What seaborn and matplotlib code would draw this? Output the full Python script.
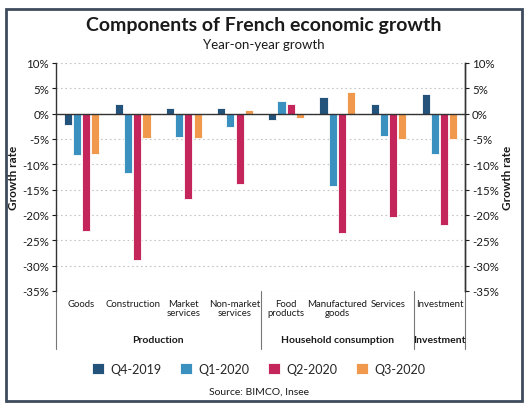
import pandas as pd
import matplotlib.pyplot as plt
import seaborn as sns
from matplotlib.patches import Rectangle
from matplotlib.ticker import FuncFormatter

# Data (growth rate, %)
categories = ["Goods", "Construction", "Market\nservices", "Non-market\nservices",
              "Food\nproducts", "Manufactured\ngoods", "Services", "Investment"]
quarters = ["Q4-2019", "Q1-2020", "Q2-2020", "Q3-2020"]
q4_2019 = [-2.3, 1.8, 1.1, 1.2, -1.2, 3.3, 1.9, 3.9]
q1_2020 = [-8.1, -11.7, -4.7, -2.7, 2.5, -14.2, -4.5, -7.9]
q2_2020 = [-23.1, -28.8, -16.9, -13.8, 1.8, -23.6, -20.5, -22.0]
q3_2020 = [-7.9, -4.8, -4.9, 0.7, -0.9, 4.2, -5.1, -5.1]
groups = ["Production", "Household consumption", "Investment"]
group_spans = [(0, 3), (4, 6), (7, 7)]
colors = ["#23537a", "#3a91c0", "#c4255b", "#f0984b"]

rows = []
for q, vals in zip(quarters, [q4_2019, q1_2020, q2_2020, q3_2020]):
    for c, v in zip(categories, vals):
        rows.append({"Category": c, "Quarter": q, "Growth": v})
df = pd.DataFrame(rows)

sns.set_style("white")
plt.rcParams["font.family"] = ["Lato", "DejaVu Sans"]
text_col = "#1a1a1a"

fig = plt.figure(figsize=(5.28, 4.10), dpi=100)
ax = fig.add_axes([0.106, 0.288, 0.775, 0.556])

sns.barplot(data=df, x="Category", y="Growth", hue="Quarter", order=categories,
            hue_order=quarters, palette=colors, saturation=1, width=0.72, gap=0.12,
            edgecolor="white", linewidth=0.6, ax=ax)

ax.set_ylim(-35, 10)
ax.set_xlim(-0.5, len(categories) - 0.5)
yticks = list(range(-35, 11, 5))
ax.set_yticks(yticks)
pct = FuncFormatter(lambda v, p: f"{int(v)}%")
ax.yaxis.set_major_formatter(pct)
for t in yticks:
    ax.axhline(t, color="#c4c4c4", lw=0.8, ls=(0, (1.5, 2.5)), zorder=0)
ax.axhline(0, color="#333333", lw=1.0, zorder=3)

ax.set_xlabel("")
ax.set_ylabel("Growth rate", fontsize=8.5, fontweight="bold", color=text_col, labelpad=2)
ax.tick_params(axis="x", length=0, pad=6, labelsize=6.9, colors=text_col)
ax.tick_params(axis="y", length=3, width=0.8, pad=2, labelsize=8.3, colors=text_col, left=True)
for lab in ax.get_xticklabels():
    lab.set_linespacing(0.95)

for s in ["top", "bottom"]:
    ax.spines[s].set_visible(False)
for s in ["left", "right"]:
    ax.spines[s].set_color("#333333")
    ax.spines[s].set_linewidth(1.0)

ax2 = ax.twinx()
ax2.set_ylim(ax.get_ylim())
ax2.set_yticks(yticks)
ax2.yaxis.set_major_formatter(pct)
ax2.set_ylabel("Growth rate", fontsize=8.5, fontweight="bold", color=text_col, labelpad=2)
ax2.tick_params(axis="y", length=3, width=0.8, pad=2, labelsize=8.3, colors=text_col, right=True)
for s in ["top", "bottom", "left"]:
    ax2.spines[s].set_visible(False)
ax2.spines["right"].set_color("#333333")
ax2.spines["right"].set_linewidth(1.0)

# group separators and group labels below the axis
trans = ax.get_xaxis_transform()
for x in [-0.5, 3.5, 6.5, 7.5]:
    ax.plot([x, x], [0, -0.255], transform=trans, color="#777777", lw=0.8, clip_on=False)
for name, (a, b) in zip(groups, group_spans):
    ax.text((a + b) / 2, -0.215, name, transform=trans, ha="center", va="center",
            fontsize=7.5, fontweight="bold", color=text_col)

handles, labels = ax.get_legend_handles_labels()
if ax.get_legend() is not None:
    ax.get_legend().remove()
fig.legend(handles, labels, loc="center", bbox_to_anchor=(0.49, 0.098), ncol=4,
           frameon=False, fontsize=9, handlelength=0.95, handleheight=0.95,
           columnspacing=1.5, handletextpad=0.5)

fig.text(0.5, 0.938, "Components of French economic growth", ha="center", va="center",
         fontsize=14, fontweight="bold", color=text_col)
fig.text(0.5, 0.89, "Year-on-year growth", ha="center", va="center",
         fontsize=9.5, color=text_col)
fig.text(0.49, 0.044, "Source: BIMCO, Insee", ha="center", va="center",
         fontsize=7.5, color=text_col)

fig.patches.append(Rectangle((0.012, 0.02), 0.976, 0.955, transform=fig.transFigure,
                             fill=False, edgecolor="#3d4b5c", lw=2))

fig.savefig("out.png", dpi=100)
